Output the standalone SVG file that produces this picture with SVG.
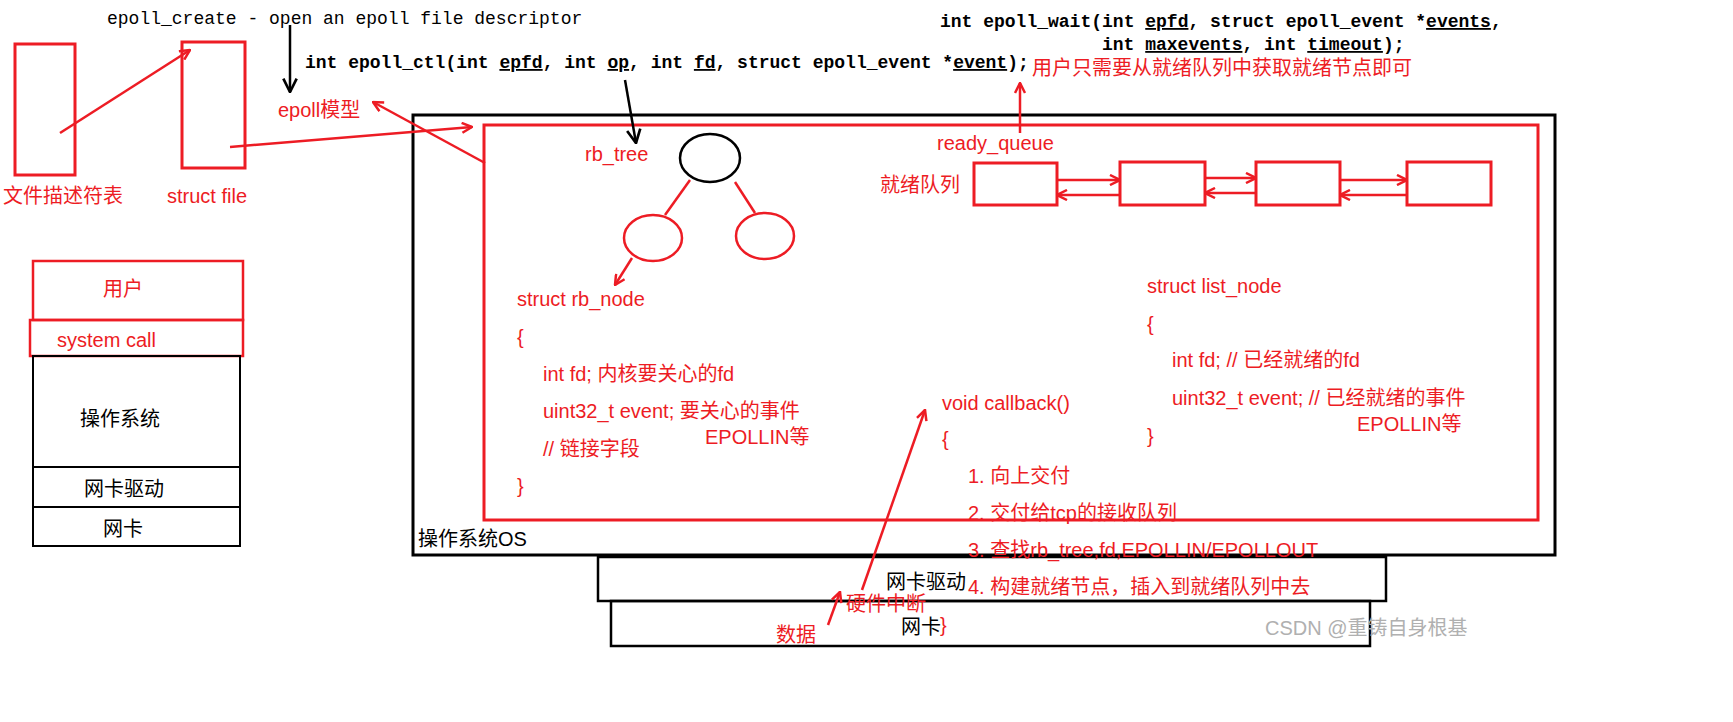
<svg xmlns="http://www.w3.org/2000/svg" width="1733" height="722" viewBox="0 0 1733 722">
<style>
.r{fill:none;stroke:#ed1c24;stroke-width:3}
.b{fill:none;stroke:#000;stroke-width:3}
.rl{stroke:#ed1c24;stroke-width:2.5;fill:none}
.bl{stroke:#000;stroke-width:2.5;fill:none}
.t{font-family:"Liberation Sans","Noto Sans CJK SC",sans-serif;font-size:20px;fill:#ed1c24}
.k{font-family:"Liberation Sans","Noto Sans CJK SC",sans-serif;font-size:20px;fill:#000}
.m{font-family:"Liberation Mono",monospace;font-size:18px;fill:#000}
.mb{font-family:"Liberation Mono",monospace;font-size:18px;fill:#000;font-weight:bold}
</style>
<defs>
<marker id="ar" viewBox="0 0 12 12" refX="11" refY="6" markerWidth="12" markerHeight="12" markerUnits="userSpaceOnUse" orient="auto"><path d="M1,1 L11,6 L1,11" fill="none" stroke="#ed1c24" stroke-width="2.5"/></marker>
<marker id="ab" viewBox="0 0 12 12" refX="11" refY="6" markerWidth="16" markerHeight="16" markerUnits="userSpaceOnUse" orient="auto"><path d="M1,1 L11,6 L1,11" fill="none" stroke="#000" stroke-width="2"/></marker>
</defs>
<rect width="1733" height="722" fill="#fff"/>
<g id="texts-top">
<text class="m" x="107" y="24">epoll_create - open an epoll file descriptor</text>
<text class="mb" x="305" y="68">int epoll_ctl(int <tspan text-decoration="underline">epfd</tspan>, int <tspan text-decoration="underline">op</tspan>, int <tspan text-decoration="underline">fd</tspan>, struct epoll_event *<tspan text-decoration="underline">event</tspan>);</text>
<text class="mb" x="940" y="27">int epoll_wait(int <tspan text-decoration="underline">epfd</tspan>, struct epoll_event *<tspan text-decoration="underline">events</tspan>,</text>
<text class="mb" x="1102" y="50">int <tspan text-decoration="underline">maxevents</tspan>, int <tspan text-decoration="underline">timeout</tspan>);</text>
<text class="t" x="1032" y="75">用户只需要从就绪队列中获取就绪节点即可</text>
</g>
<g id="fdtable"><rect class="r" x="15" y="44" width="60" height="131"/><text class="t" x="3" y="203">文件描述符表</text></g>
<g id="structfile"><rect class="r" x="182" y="42" width="63" height="126"/><text class="t" x="167" y="203">struct file</text></g>
<g id="epollmodel"><text class="t" x="278" y="117">epoll模型</text></g>
<g id="os"><rect class="b" x="413" y="115" width="1142" height="440"/><text class="k" x="418" y="546">操作系统OS</text></g>
<g id="epollbox"><rect class="r" x="484" y="125" width="1054" height="395"/></g>
<g id="rbtree">
<text class="t" x="585" y="161">rb_tree</text>
<ellipse cx="710" cy="158" rx="30" ry="24" fill="none" stroke="#000" stroke-width="2.5"/>
<ellipse cx="653" cy="238" rx="29" ry="23" class="r" style="stroke-width:2.5"/>
<ellipse cx="765" cy="236" rx="29" ry="23" class="r" style="stroke-width:2.5"/>
</g>
<g id="rbnode">
<text class="t" x="517" y="306">struct rb_node</text>
<text class="t" x="517" y="344">{</text>
<text class="t" x="543" y="381">int fd; 内核要关心的fd</text>
<text class="t" x="543" y="418">uint32_t event; 要关心的事件</text>
<text class="t" x="705" y="444">EPOLLIN等</text>
<text class="t" x="543" y="456">// 链接字段</text>
<text class="t" x="517" y="493">}</text>
</g>
<g id="readyqueue">
<text class="t" x="937" y="150">ready_queue</text>
<text class="t" x="880" y="192">就绪队列</text>
<rect class="r" x="974" y="163" width="83" height="42"/>
<rect class="r" x="1120" y="162" width="85" height="43"/>
<rect class="r" x="1256" y="162" width="84" height="43"/>
<rect class="r" x="1407" y="162" width="84" height="43"/>
</g>
<g id="listnode">
<text class="t" x="1147" y="293">struct list_node</text>
<text class="t" x="1147" y="331">{</text>
<text class="t" x="1172" y="367">int fd; // 已经就绪的fd</text>
<text class="t" x="1172" y="405">uint32_t event; // 已经就绪的事件</text>
<text class="t" x="1357" y="431">EPOLLIN等</text>
<text class="t" x="1147" y="443">}</text>
</g>
<g id="nicdrv"><rect class="b" x="598" y="557" width="788" height="44" style="stroke-width:2.5"/><text class="k" x="886" y="589">网卡驱动</text></g>
<g id="nic"><rect class="b" x="611" y="601" width="759" height="45" style="stroke-width:2.5"/><text class="k" x="901" y="634">网卡</text></g>
<g id="callback">
<text class="t" x="942" y="410">void callback()</text>
<text class="t" x="942" y="446">{</text>
<text class="t" x="968" y="483">1. 向上交付</text>
<text class="t" x="968" y="520">2. 交付给tcp的接收队列</text>
<text class="t" x="968" y="557">3. 查找rb_tree,fd,EPOLLIN/EPOLLOUT</text>
<text class="t" x="968" y="594">4. 构建就绪节点，插入到就绪队列中去</text>
<text class="t" x="940" y="632">}</text>
</g>
<g id="labels-hw"><text class="t" x="776" y="642">数据</text><text class="t" x="846" y="611">硬件中断</text></g>
<g id="stack">
<rect class="r" x="33" y="261" width="210" height="59" style="stroke-width:2.5"/><text class="t" x="103" y="296">用户</text>
<rect class="r" x="30" y="320" width="213" height="36" style="stroke-width:2.5"/><text class="t" x="57" y="347">system call</text>
<rect class="b" x="33" y="356" width="207" height="111" style="stroke-width:2"/><text class="k" x="80" y="426">操作系统</text>
<rect class="b" x="33" y="467" width="207" height="40" style="stroke-width:2"/><text class="k" x="84" y="496">网卡驱动</text>
<rect class="b" x="33" y="507" width="207" height="39" style="stroke-width:2"/><text class="k" x="103" y="536">网卡</text>
</g>
<g id="connectors">
<line class="rl" x1="60" y1="133" x2="190" y2="50" marker-end="url(#ar)"/>
<line class="rl" x1="230" y1="147" x2="472" y2="127" marker-end="url(#ar)"/>
<line class="bl" x1="290" y1="25" x2="290" y2="92" marker-end="url(#ab)"/>
<line class="rl" x1="485" y1="163" x2="373" y2="102" marker-end="url(#ar)"/>
<line class="bl" x1="625" y1="80" x2="636" y2="143" marker-end="url(#ab)"/>
<line class="rl" x1="690" y1="180" x2="665" y2="215"/>
<line class="rl" x1="735" y1="182" x2="755" y2="213"/>
<line class="rl" x1="632" y1="258" x2="615" y2="285" marker-end="url(#ar)"/>
<line class="rl" x1="1020" y1="133" x2="1020" y2="83" marker-end="url(#ar)"/>
<line class="rl" x1="1057" y1="180" x2="1120" y2="180" marker-end="url(#ar)"/>
<line class="rl" x1="1120" y1="195" x2="1057" y2="195" marker-end="url(#ar)"/>
<line class="rl" x1="1205" y1="178" x2="1256" y2="178" marker-end="url(#ar)"/>
<line class="rl" x1="1256" y1="193" x2="1205" y2="193" marker-end="url(#ar)"/>
<line class="rl" x1="1340" y1="180" x2="1407" y2="180" marker-end="url(#ar)"/>
<line class="rl" x1="1407" y1="195" x2="1340" y2="195" marker-end="url(#ar)"/>
<line class="rl" x1="862" y1="590" x2="925" y2="410" marker-end="url(#ar)"/>
<line class="rl" x1="828" y1="625" x2="840" y2="592" marker-end="url(#ar)"/>
</g>
<text x="1265" y="635" style="font-family:'Liberation Sans','Noto Sans CJK SC',sans-serif;font-size:20px;fill:#b0b0b0">CSDN @重铸自身根基</text>
</svg>
